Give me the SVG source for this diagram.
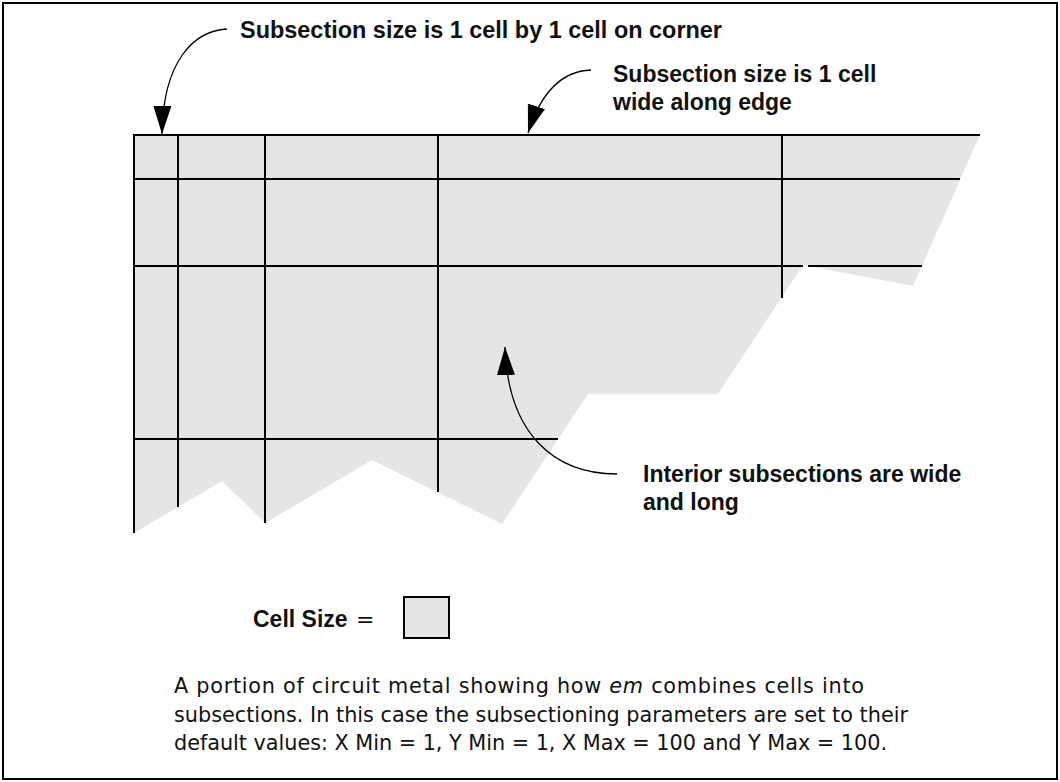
<svg xmlns="http://www.w3.org/2000/svg" width="1060" height="782" viewBox="0 0 1060 782">
  <style>
    .frame { fill: #ffffff; stroke: #000000; stroke-width: 2; }
    .metal { fill: #e5e5e5; stroke: none; }
    .grid { stroke: #000000; stroke-width: 2; fill: none; }
    .conn { stroke: #000000; stroke-width: 1.3; fill: none; marker-end: url(#ah); }
    .lbl { font-family: "Liberation Sans", Arial, sans-serif; font-weight: bold; font-size: 23px; fill: #111111; }
    .cap { font-family: "DejaVu Sans", Verdana, sans-serif; font-size: 20.8px; fill: #111111; }
    .cell { fill: #e5e5e5; stroke: #000000; stroke-width: 2; }
  </style>
  <defs>
    <marker id="ah" markerUnits="userSpaceOnUse" markerWidth="30" markerHeight="20" refX="28" refY="9" orient="auto">
      <path d="M0,0 L28,9 L0,18 z" fill="#000000"/>
    </marker>
  </defs>

  <rect class="frame" x="3" y="3" width="1054" height="776"/>

  <g id="metal">
    <polygon class="metal" points="134,135 980,135 913,286 803,265 718,394 588,394 502,524 372,460 265,523 222,481 134,533"/>
    <g id="grid">
      <line class="grid" x1="133" y1="135" x2="980" y2="135"/>
      <line class="grid" x1="134" y1="179" x2="960" y2="179"/>
      <line class="grid" x1="134" y1="266" x2="803" y2="266"/>
      <line class="grid" x1="808" y1="266" x2="922" y2="266"/>
      <line class="grid" x1="134" y1="439" x2="558" y2="439"/>
      <line class="grid" x1="134" y1="135" x2="134" y2="533"/>
      <line class="grid" x1="178" y1="135" x2="178" y2="507"/>
      <line class="grid" x1="265" y1="135" x2="265" y2="523"/>
      <line class="grid" x1="438" y1="135" x2="438" y2="492"/>
      <line class="grid" x1="782" y1="135" x2="782" y2="298"/>
    </g>
  </g>

  <g id="connectors">
    <path class="conn" d="M227,29 C193,31 163,62 162,134"/>
    <path class="conn" d="M591,70 C562,71 541,92 528,133"/>
    <path class="conn" d="M617,474 C555,474 508,435 505,347"/>
  </g>

  <g id="label-corner">
    <text class="lbl" x="240" y="38" textLength="482" lengthAdjust="spacingAndGlyphs">Subsection size is 1 cell by 1 cell on corner</text>
  </g>

  <g id="label-edge">
    <text class="lbl" x="613" y="82">Subsection size is 1 cell</text>
    <text class="lbl" x="613" y="110">wide along edge</text>
  </g>

  <g id="label-interior">
    <text class="lbl" x="643" y="482">Interior subsections are wide</text>
    <text class="lbl" x="643" y="510">and long</text>
  </g>

  <g id="cell-size">
    <text class="lbl" x="253" y="627">Cell Size <tspan x="356" font-family="DejaVu Sans, sans-serif" font-weight="normal" font-size="22">=</tspan></text>
    <rect class="cell" x="404" y="597" width="45" height="41"/>
  </g>

  <g id="caption">
    <text class="cap" x="174" y="693" textLength="690" lengthAdjust="spacing">A portion of circuit metal showing how <tspan font-style="italic">em</tspan> combines cells into</text>
    <text class="cap" x="174" y="721.5" textLength="734" lengthAdjust="spacing">subsections. In this case the subsectioning parameters are set to their</text>
    <text class="cap" x="174" y="750" textLength="713" lengthAdjust="spacing">default values: X Min = 1, Y Min = 1, X Max = 100 and Y Max = 100.</text>
  </g>
</svg>
